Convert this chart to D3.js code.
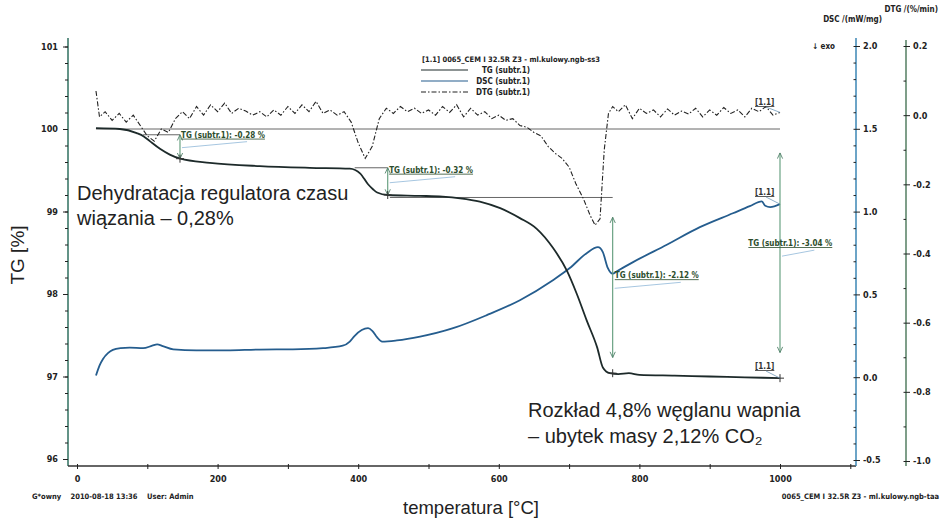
<!DOCTYPE html>
<html>
<head>
<meta charset="utf-8">
<script src="https://cdn.jsdelivr.net/npm/d3@7"></script>
<style>
  body { margin: 0; background: #fff; }
  svg { display: block; }
  .tick text { font-family: 'Liberation Sans Narrow', 'DejaVu Sans Condensed', Arial, sans-serif; font-weight: bold; font-size: 9px; fill: #222; }
  .small { font-family: 'Liberation Sans Narrow', 'DejaVu Sans Condensed', Arial, sans-serif; font-weight: bold; font-size: 8px; }
  .big { font-family: 'Liberation Sans', Arial, sans-serif; font-size: 20px; fill: #222; }
</style>
</head>
<body>
<script>
// ---- data ----
const tgTemp = [27, 61, 85, 95, 104, 118, 132, 147, 189, 260, 331, 388, 403, 414, 421, 427, 442, 488, 520, 545, 573, 602, 630, 654, 677, 697, 711, 725, 740, 748, 758, 770, 785, 800, 850, 900, 950, 1000];
const tgVal = [100.01, 100.0, 99.95, 99.91, 99.85, 99.76, 99.69, 99.64, 99.59, 99.55, 99.53, 99.52, 99.46, 99.33, 99.27, 99.23, 99.20, 99.19, 99.18, 99.16, 99.12, 99.04, 98.92, 98.79, 98.56, 98.28, 98.00, 97.68, 97.35, 97.11, 97.04, 97.03, 97.04, 97.02, 97.01, 97.0, 96.99, 96.98];

const dscTemp = [27, 32, 37, 44, 51, 62, 75, 94, 107, 114, 122, 137, 170, 213, 260, 307, 350, 378, 388, 395, 405, 414, 420, 427, 434, 455, 488, 535, 583, 630, 677, 701, 725, 741, 748, 755, 762, 768, 791, 839, 886, 933, 957, 974, 979, 986, 1000];
const dscVal = [0.01, 0.07, 0.11, 0.145, 0.165, 0.175, 0.178, 0.175, 0.19, 0.198, 0.188, 0.168, 0.162, 0.162, 0.167, 0.168, 0.175, 0.19, 0.215, 0.25, 0.285, 0.296, 0.28, 0.24, 0.215, 0.222, 0.245, 0.296, 0.375, 0.465, 0.586, 0.659, 0.749, 0.785, 0.755, 0.66, 0.625, 0.64, 0.695, 0.80, 0.906, 0.99, 1.033, 1.062, 1.035, 1.027, 1.045];

const dtgTemp = [27, 32, 40, 50, 60, 70, 80, 90, 100, 110, 120, 130, 140, 150, 160, 170, 180, 190, 200, 210, 220, 230, 240, 250, 260, 270, 280, 290, 300, 310, 320, 330, 340, 350, 360, 370, 380, 390, 400, 410, 420, 430, 440, 450, 460, 470, 480, 490, 500, 510, 520, 530, 540, 550, 560, 570, 580, 590, 600, 610, 620, 630, 640, 650, 660, 670, 680, 690, 700, 710, 720, 730, 737, 744, 750, 756, 762, 770, 780, 790, 800, 810, 820, 830, 840, 850, 860, 870, 880, 890, 900, 910, 920, 930, 940, 950, 960, 970, 980, 990, 1000];
const dtgVal = [0.070, -0.005, 0.010, -0.015, 0.005, -0.020, 0.000, -0.030, -0.060, -0.075, -0.040, -0.050, -0.010, 0.010, -0.010, 0.025, 0.000, 0.030, 0.010, 0.035, 0.005, 0.020, 0.012, 0.000, 0.010, -0.005, 0.015, 0.000, 0.025, 0.005, 0.030, 0.010, 0.040, 0.005, 0.015, 0.000, 0.010, -0.020, -0.080, -0.125, -0.090, -0.010, 0.020, 0.005, 0.025, 0.010, 0.020, 0.005, 0.015, 0.000, 0.025, 0.008, 0.030, -0.005, 0.020, 0.000, 0.010, -0.010, 0.000, -0.015, -0.010, -0.030, -0.035, -0.050, -0.060, -0.090, -0.110, -0.125, -0.150, -0.200, -0.240, -0.290, -0.318, -0.300, -0.100, 0.005, 0.025, 0.010, 0.030, -0.010, 0.020, 0.005, 0.015, -0.005, 0.018, 0.000, 0.012, 0.003, 0.020, -0.005, 0.015, 0.000, 0.022, 0.005, 0.015, -0.005, 0.020, 0.010, 0.025, 0.000, 0.008];

const xTicks = [0, 100, 200, 300, 400, 500, 600, 700, 800, 900, 1000, 1100];
const tgTicks = [96, 97, 98, 99, 100, 101];
const dscTicks = [-0.5, 0.0, 0.5, 1.0, 1.5, 2.0];
const dtgTicks = [-1.0, -0.8, -0.6, -0.4, -0.2, 0.0, 0.2];

// TG step evaluations
const stepT = [146.5, 442, 762, 1000];
const stepTop = [99.93, 99.53, 98.93, 99.71];
const stepBottom = [99.64, 99.20, 97.23, 97.29];
const stepLabels = ['TG (subtr.1): -0.28 %', 'TG (subtr.1): -0.32 %', 'TG (subtr.1): -2.12 %', 'TG (subtr.1): -3.04 %'];
const stepLabelT = [148, 444, 765, 955];
const stepLabelTG = [99.895, 99.47, 98.19, 98.58];
// reference levels: [tgValue, fromT, toT]
const refLevels = [[100.0, 27, 1000], [99.93, 94, 146.5], [99.53, 395, 442], [99.17, 445, 762]];
const markT = [146.5, 442, 762, 1000];
const markTG = [99.64, 99.20, 97.04, 96.98];

// ---- layout ----
const W = 940, H = 525;
const svg = d3.select('body').append('svg').attr('width', W).attr('height', H);

const x = d3.scaleLinear().domain([0, 1000]).range([77, 780]);
const yTG = d3.scaleLinear().domain([96, 101]).range([459, 46.5]);
const yDSC = d3.scaleLinear().domain([-0.5, 2]).range([460, 46]);
const yDTG = d3.scaleLinear().domain([-1, 0.2]).range([461, 46]);

const fmt1 = d => d.toFixed(1);

// frame lines
const frame = svg.append('g').attr('fill', 'none');
frame.append('line').attr('x1', 68).attr('x2', 68).attr('y1', 38).attr('y2', 466).attr('stroke', '#2f6f5f').attr('stroke-width', 1.5);
frame.append('line').attr('x1', 68).attr('x2', 856).attr('y1', 466).attr('y2', 466).attr('stroke', '#333').attr('stroke-width', 1.5);
frame.append('line').attr('x1', 856).attr('x2', 856).attr('y1', 38).attr('y2', 466).attr('stroke', '#3b86b5').attr('stroke-width', 1.5);
frame.append('line').attr('x1', 906).attr('x2', 906).attr('y1', 40).attr('y2', 466).attr('stroke', '#3a6a4a').attr('stroke-width', 1.3);

function styleAxis(g) {
  g.select('.domain').remove();
  g.selectAll('.tick line').attr('stroke', '#222');
}

// x axis
svg.append('g').attr('transform', 'translate(0,466)')
  .call(d3.axisBottom(x).tickValues(xTicks).tickSizeInner(3).tickPadding(6.5)
    .tickFormat(d => (d % 200 === 0 && d <= 1000) ? d : ''))
  .call(styleAxis)
  .selectAll('.tick line').attr('y1', -2);

// TG axis
svg.append('g').attr('transform', 'translate(68,0)')
  .call(d3.axisLeft(yTG).tickValues(tgTicks).tickSize(5).tickPadding(5).tickFormat(d3.format('d')))
  .call(styleAxis);
svg.append('g').attr('transform', 'translate(68,0)')
  .call(d3.axisLeft(yTG).tickValues(d3.range(96, 101.01, 0.2)).tickSize(3).tickFormat(''))
  .call(styleAxis);

// DSC axis
svg.append('g').attr('transform', 'translate(856,0)')
  .call(d3.axisRight(yDSC).tickValues(dscTicks).tickSize(4).tickPadding(3).tickFormat(fmt1))
  .call(styleAxis);
svg.append('g').attr('transform', 'translate(856,0)')
  .call(d3.axisLeft(yDSC).tickValues(d3.range(-0.5, 2.01, 0.1)).tickSize(2.5).tickFormat(''))
  .call(styleAxis);

// DTG axis
svg.append('g').attr('transform', 'translate(906,0)')
  .call(d3.axisRight(yDTG).tickValues(dtgTicks).tickSize(4).tickPadding(3).tickFormat(fmt1))
  .call(styleAxis);
svg.append('g').attr('transform', 'translate(906,0)')
  .call(d3.axisLeft(yDTG).tickValues(d3.range(-1, 0.21, 0.1)).tickSize(2.5).tickFormat(''))
  .call(styleAxis);

// reference levels
svg.append('g').selectAll('line').data(refLevels).join('line')
  .attr('x1', d => x(d[1])).attr('x2', d => x(d[2]))
  .attr('y1', d => yTG(d[0])).attr('y2', d => yTG(d[0]))
  .attr('stroke', '#666').attr('stroke-width', 1);

// curves
const line = (ys) => d3.line().x(d => x(d[0])).y(d => ys(d[1])).curve(d3.curveMonotoneX);
svg.append('path').datum(d3.zip(dscTemp, dscVal))
  .attr('d', line(yDSC)).attr('fill', 'none').attr('stroke', '#255d8e').attr('stroke-width', 1.8);
svg.append('path').datum(d3.zip(tgTemp, tgVal))
  .attr('d', line(yTG)).attr('fill', 'none').attr('stroke', '#1d2a2a').attr('stroke-width', 1.8);
svg.append('path').datum(d3.zip(dtgTemp, dtgVal))
  .attr('d', d3.line().x(d => x(d[0])).y(d => yDTG(d[1])).curve(d3.curveLinear))
  .attr('fill', 'none').attr('stroke', '#222').attr('stroke-width', 1.1).attr('stroke-dasharray', '5,2,1.5,2');

// arrows
const defs = svg.append('defs');
defs.append('marker').attr('id', 'arr').attr('viewBox', '0 0 8 8').attr('refX', 7.5).attr('refY', 4)
  .attr('markerWidth', 7).attr('markerHeight', 7).attr('orient', 'auto-start-reverse').attr('markerUnits', 'userSpaceOnUse')
  .append('path').attr('d', 'M1,1 L7.5,4 L1,7').attr('fill', 'none').attr('stroke', '#4f7f68').attr('stroke-width', 1);

const steps = stepT.map((t, i) => ({ t, top: stepTop[i], bot: stepBottom[i], label: stepLabels[i], lt: stepLabelT[i], ltg: stepLabelTG[i] }));
const sg = svg.append('g');
sg.selectAll('line.arrow').data(steps).join('line').attr('class', 'arrow')
  .attr('x1', d => x(d.t)).attr('x2', d => x(d.t))
  .attr('y1', d => yTG(d.top)).attr('y2', d => yTG(d.bot))
  .attr('stroke', '#5d9a78').attr('stroke-width', 1.1)
  .attr('marker-start', 'url(#arr)').attr('marker-end', 'url(#arr)');
sg.selectAll('line.lead').data(steps).join('line').attr('class', 'lead')
  .attr('x1', d => x(d.t) + 2).attr('y1', d => yTG(d.ltg) + 10)
  .attr('x2', d => x(d.lt) + 66).attr('y2', d => yTG(d.ltg) + 4)
  .attr('stroke', '#8fb8d8').attr('stroke-width', 0.8);
sg.selectAll('text').data(steps).join('text').attr('class', 'small')
  .attr('x', d => x(d.lt)).attr('y', d => yTG(d.ltg))
  .attr('fill', '#2c4d2c').attr('text-decoration', 'underline')
  .text(d => d.label);

// cross markers on TG curve
const marks = d3.zip(markT, markTG);
sg.selectAll('path.mark').data(marks).join('path').attr('class', 'mark')
  .attr('d', d => `M${x(d[0]) - 4},${yTG(d[1])}h8M${x(d[0])},${yTG(d[1]) - 4}v8`)
  .attr('stroke', '#333').attr('stroke-width', 1);

// [1.1] tags at curve ends
const ends = [
  [x(1000), yDTG(dtgVal[dtgVal.length - 1]), 105],
  [x(1000), yDSC(dscVal[dscVal.length - 1]), 195],
  [x(1000), yTG(tgVal[tgVal.length - 1]), 369]
];
ends.forEach(([ex, ey, ty]) => {
  svg.append('text').attr('class', 'small').attr('x', ex - 25).attr('y', ty)
    .attr('fill', '#333').attr('text-decoration', 'underline').text('[1.1]');
  svg.append('line').attr('x1', ex - 14).attr('y1', ty + 2).attr('x2', ex).attr('y2', ey)
    .attr('stroke', '#6d97b8').attr('stroke-width', 0.8);
});

// legend
const lg = svg.append('g');
lg.append('text').attr('class', 'small').style('font-size', '7.5px').attr('x', 422).attr('y', 62).attr('fill', '#222')
  .text('[1.1] 0065_CEM I 32.5R Z3 - ml.kulowy.ngb-ss3');
const legRows = [
  ['TG (subtr.1)', '#1d2a2a', null, 70],
  ['DSC (subtr.1)', '#255d8e', null, 81],
  ['DTG (subtr.1)', '#222', '5,2,1.5,2', 92]
];
legRows.forEach(([label, col, dash, ly]) => {
  lg.append('line').attr('x1', 421).attr('x2', 468).attr('y1', ly).attr('y2', ly)
    .attr('stroke', col).attr('stroke-width', 1.1).attr('stroke-dasharray', dash);
  lg.append('text').attr('class', 'small').attr('x', 530).attr('y', ly + 3)
    .attr('text-anchor', 'end').attr('fill', '#222').text(label);
});

// axis titles
svg.append('text').attr('class', 'small').attr('x', 938).attr('y', 12).attr('text-anchor', 'end').attr('fill', '#222').text('DTG /(%/min)');
svg.append('text').attr('class', 'small').attr('x', 882).attr('y', 22).attr('text-anchor', 'end').attr('fill', '#222').text('DSC /(mW/mg)');
svg.append('text').attr('class', 'small').attr('x', 812).attr('y', 49).attr('fill', '#222').text('↓ exo');
svg.append('text').attr('class', 'big').style('font-size', '19px').attr('text-anchor', 'middle')
  .attr('transform', 'translate(24,255) rotate(-90)').text('TG [%]');
svg.append('text').attr('class', 'big').style('font-size', '18.5px').attr('text-anchor', 'middle')
  .attr('x', 471).attr('y', 514).text('temperatura [°C]');

// footer
svg.append('text').attr('class', 'small').style('font-size', '7.5px').attr('x', 32).attr('y', 499).attr('fill', '#222')
  .attr('xml:space', 'preserve').text('G*owny    2010-08-18 13:36    User: Admin');
svg.append('text').attr('class', 'small').style('font-size', '7.5px').attr('x', 939).attr('y', 499).attr('text-anchor', 'end').attr('fill', '#222')
  .text('0065_CEM I 32.5R Z3 - ml.kulowy.ngb-taa');

// descriptive annotations
svg.append('text').attr('class', 'big').attr('x', 77).attr('y', 200).text('Dehydratacja regulatora czasu');
svg.append('text').attr('class', 'big').attr('x', 77).attr('y', 225).text('wiązania – 0,28%');
svg.append('text').attr('class', 'big').attr('x', 528).attr('y', 417).text('Rozkład 4,8% węglanu wapnia');
svg.append('text').attr('class', 'big').attr('x', 528).attr('y', 443).text('– ubytek masy 2,12% CO₂');
</script>
</body>
</html>
